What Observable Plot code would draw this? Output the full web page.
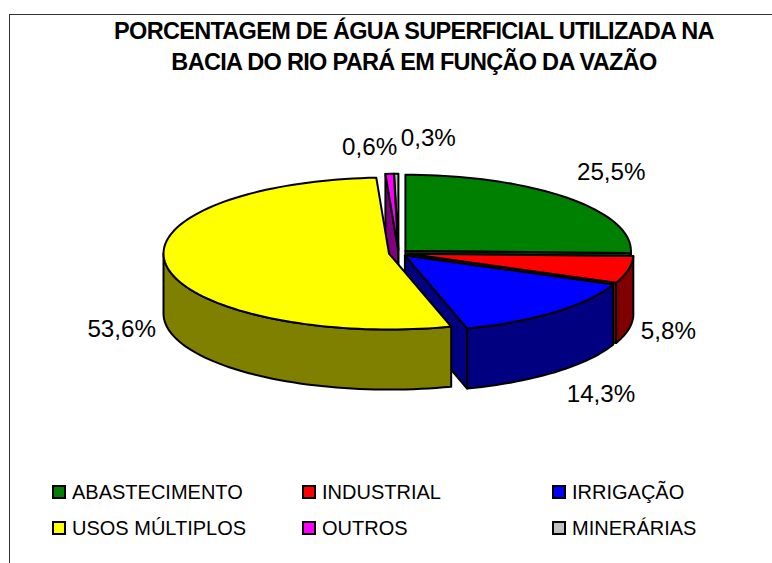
<!DOCTYPE html>
<html lang="pt">
<head>
<meta charset="utf-8">
<script src="https://cdn.jsdelivr.net/npm/d3@7"></script>
<script src="https://cdn.jsdelivr.net/npm/@observablehq/plot@0.6"></script>
<style>
html,body{margin:0;padding:0;background:#fff;width:772px;height:563px;overflow:hidden;font-family:"Liberation Sans",Arial,sans-serif;color:#000}
#frame{position:absolute;left:9px;top:14px;width:763px;height:549px;border-left:1.5px solid #333;border-top:1.5px solid #333;box-sizing:border-box}
#title{position:absolute;left:0;top:16px;width:772px;box-sizing:border-box;padding-left:56px;text-align:center;font-weight:bold;font-size:23.5px;line-height:31px;letter-spacing:-0.7px;white-space:nowrap}
#chart{position:absolute;left:0;top:90px}
#chart svg{display:block;background:transparent}
#legend{position:absolute;left:0;top:474px;width:772px;height:72px}
.it{position:absolute;display:flex;align-items:center;font-size:20px;letter-spacing:0;white-space:nowrap;height:36px}
.sw{display:inline-block;width:10px;height:10px;border:2px solid #000;margin-right:6px}
</style>
</head>
<body>
<div id="frame"></div>
<div id="title">PORCENTAGEM DE ÁGUA SUPERFICIAL UTILIZADA NA<br>BACIA DO RIO PARÁ EM FUNÇÃO DA VAZÃO</div>
<div id="chart"></div>
<div id="legend"></div>
<script>
const categories = ["ABASTECIMENTO","INDUSTRIAL","IRRIGAÇÃO","USOS MÚLTIPLOS","OUTROS","MINERÁRIAS"];
const percentages = [25.5,5.8,14.3,53.6,0.6,0.3];
const topColors = ["#008000","#ff0000","#0000ff","#ffff00","#ff00ff","#c0c0c0"];
const wallColors = ["#004000","#800000","#000080","#808000","#800080","#606060"];
const paintOrder = [5,4,0,1,2,3];
const labelNudge = [[44,-26],[40,62],[46,82],[-45,63],[-20,-27],[32,-36]];
const legendColumns = [52,302,552];
const legendRows = [0,36];

const explode = 0.0427, depth = 0.79, width = 772, height = 384;
const cx = 398, cy = 162.5, rx = 225.5, ry = 76;
const total = d3.sum(percentages);
const rad = a => a * Math.PI / 180;
const arc = (a0, a1, ox, oy, drop) => {
  const n = Math.max(1, Math.ceil((a1 - a0) / 2));
  return d3.range(n + 1).map(i => {
    const a = rad(a0 + (a1 - a0) * i / n);
    return {x: ox + Math.sin(a), y: oy + Math.cos(a) - drop};
  });
};
let acc = 0;
const slices = percentages.map((p, i) => {
  const a0 = acc / total * 360; acc += p;
  const a1 = acc / total * 360, m = rad((a0 + a1) / 2);
  return {i, a0, a1, m, ox: explode * Math.sin(m), oy: explode * Math.cos(m)};
});
const poly = (pts, fill) => Plot.line(pts, {x:"x", y:"y", fill, stroke:"#000", strokeWidth:2, curve:"linear-closed"});
const marks = [];
for (const k of paintOrder) {
  const s = slices[k], {a0, a1, ox, oy} = s;
  const apex = {x: ox, y: oy}, apexLow = {x: ox, y: oy - depth};
  const edge = a => ({x: ox + Math.sin(rad(a)), y: oy + Math.cos(rad(a))});
  const low = p => ({x: p.x, y: p.y - depth});
  if (Math.sin(rad(a0)) < -1e-6) marks.push(poly([apex, edge(a0), low(edge(a0)), apexLow], wallColors[k]));
  if (Math.sin(rad(a1)) > 1e-6) marks.push(poly([apex, edge(a1), low(edge(a1)), apexLow], wallColors[k]));
  const f0 = Math.max(a0, 90), f1 = Math.min(a1, 270);
  if (f1 > f0) marks.push(poly([...arc(f0, f1, ox, oy, 0), ...arc(f0, f1, ox, oy, depth).reverse()], wallColors[k]));
  marks.push(poly([apex, ...arc(a0, a1, ox, oy, 0)], topColors[k]));
}
slices.forEach(s => {
  marks.push(Plot.text([s], {
    x: d => d.ox + Math.sin(d.m),
    y: d => d.oy + Math.cos(d.m),
    text: d => percentages[d.i].toFixed(1).replace(".", ",") + "%",
    dx: labelNudge[s.i][0], dy: labelNudge[s.i][1],
    fontSize: 24.2, fill: "#000", fontFamily: "Liberation Sans"
  }));
});
const plot = Plot.plot({
  width, height, margin: 0,
  x: {domain: [-1, 1], range: [cx - rx, cx + rx], axis: null},
  y: {domain: [-1, 1], range: [cy + ry, cy - ry], axis: null},
  marks
});
document.getElementById("chart").append(plot);
const legend = document.getElementById("legend");
categories.forEach((c, i) => {
  const el = document.createElement("div");
  el.className = "it";
  el.style.left = legendColumns[i % 3] + "px";
  el.style.top = legendRows[Math.floor(i / 3)] + "px";
  const sw = document.createElement("span");
  sw.className = "sw"; sw.style.background = topColors[i];
  el.append(sw, c);
  legend.append(el);
});
</script>
</body>
</html>
